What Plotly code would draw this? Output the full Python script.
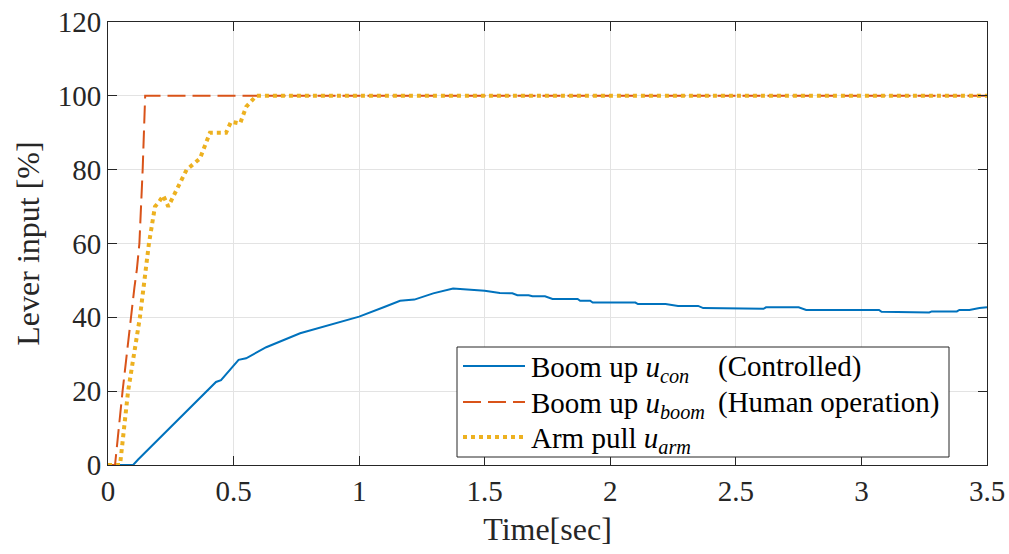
import plotly.graph_objects as go

# ---- data ----
t_con = [0, 0.10, 0.12, 0.43, 0.45, 0.52, 0.55, 0.63, 0.765, 0.90, 1.00, 1.10, 1.163, 1.22,
         1.295, 1.374, 1.45, 1.50, 1.56, 1.61, 1.63, 1.675, 1.69, 1.74, 1.77, 1.87, 1.88, 1.92,
         1.93, 2.10, 2.11, 2.22, 2.27, 2.35, 2.37, 2.43, 2.44, 2.61, 2.62, 2.75, 2.78, 3.07,
         3.08, 3.13, 3.14, 3.27, 3.28, 3.38, 3.39, 3.43, 3.47, 3.50]
u_con = [0, 0, 1.5, 22.5, 23.0, 28.5, 28.9, 31.9, 35.7, 38.2, 40.2, 42.8, 44.5, 44.8,
         46.5, 47.8, 47.5, 47.2, 46.6, 46.5, 46.0, 46.0, 45.7, 45.7, 45.0, 45.0, 44.5, 44.5,
         44.0, 44.0, 43.6, 43.6, 43.1, 43.1, 42.5, 42.5, 42.3, 42.3, 42.7, 42.7, 42.0, 42.0,
         41.5, 41.5, 41.3, 41.3, 41.6, 41.6, 42.0, 42.0, 42.5, 42.7]

t_boom = [0, 0.028, 0.058, 0.090, 0.105, 0.115, 0.125, 0.138, 0.148, 3.5]
u_boom = [0, 0, 20, 40, 48, 53, 60, 80, 100, 100]

t_arm = [0, 0.048, 0.080, 0.127, 0.163, 0.187, 0.200, 0.220, 0.240, 0.313, 0.366, 0.406,
         0.470, 0.490, 0.526, 0.550, 0.590, 3.5]
u_arm = [0, 0, 20, 40, 60, 70, 71, 73, 70, 80, 83, 90, 90, 93, 92.5, 97, 100, 100]

x_ticks = [0, 0.5, 1, 1.5, 2, 2.5, 3, 3.5]
x_tick_labels = ["0", "0.5", "1", "1.5", "2", "2.5", "3", "3.5"]
y_ticks = [0, 20, 40, 60, 80, 100, 120]
y_tick_labels = ["0", "20", "40", "60", "80", "100", "120"]

legend_names = [
    "Boom up <i>u</i><sub><i>con</i></sub>",
    "Boom up <i>u</i><sub><i>boom</i></sub>",
    "Arm pull <i>u</i><sub><i>arm</i></sub>",
]
legend_notes = ["(Controlled)", "(Human operation)", ""]

FONT = "Liberation Serif"
AX = "#262626"
colors = ["#0072BD", "#D95319", "#EDB120"]
line_styles = [dict(color=colors[0], width=2),
               dict(color=colors[1], width=2, dash="18px,7px"),
               dict(color=colors[2], width=4, dash="4px,4px")]

fig = go.Figure()
for tx, uy, ls, nm in zip([t_con, t_boom, t_arm], [u_con, u_boom, u_arm], line_styles, legend_names):
    fig.add_trace(go.Scatter(x=tx, y=uy, mode="lines", name=nm, line=ls, showlegend=False))

axis_common = dict(showline=True, linecolor=AX, linewidth=1, mirror="ticks",
                   ticks="inside", ticklen=9, tickcolor=AX, showgrid=True,
                   gridcolor="#E3E3E3", gridwidth=1, zeroline=False, automargin=False)

# ---- manual legend (paper coordinates) ----
L, B, W, H = 108, 465, 879, 443     # plot-area pixel frame
px = lambda x: (x - L) / W
py = lambda y: (B - y) / H
box = dict(x0=457, x1=949, y0=347, y1=457)
rows_y = [366, 402, 437]

shapes = [dict(type="rect", xref="paper", yref="paper", layer="above",
               x0=px(box["x0"]), x1=px(box["x1"]), y0=py(box["y1"]), y1=py(box["y0"]),
               fillcolor="white", line=dict(color=AX, width=1))]
annotations = []
for i, yy in enumerate(rows_y):
    shapes.append(dict(type="line", xref="paper", yref="paper", layer="above",
                       x0=px(463), x1=px(525), y0=py(yy), y1=py(yy), line=line_styles[i]))
    annotations.append(dict(xref="paper", yref="paper", x=px(529), y=py(yy + 3),
                            xanchor="left", yanchor="middle", showarrow=False,
                            text=legend_names[i], font=dict(family=FONT, size=29, color="black")))
    if legend_notes[i]:
        annotations.append(dict(xref="paper", yref="paper", x=px(716), y=py(yy),
                                xanchor="left", yanchor="middle", showarrow=False,
                                text=legend_notes[i], font=dict(family=FONT, size=29, color="black")))

fig.update_layout(
    width=1009, height=554,
    margin=dict(l=108, r=22, t=22, b=89),
    paper_bgcolor="white", plot_bgcolor="white",
    font=dict(family=FONT, color=AX, size=28),
    xaxis=dict(range=[0, 3.5], tickvals=x_ticks, ticktext=x_tick_labels,
               tickfont=dict(family=FONT, size=29, color=AX),
               title=dict(text="Time[sec]", font=dict(family=FONT, size=32, color=AX), standoff=11),
               **axis_common),
    yaxis=dict(range=[0, 120], tickvals=y_ticks, ticktext=y_tick_labels,
               tickfont=dict(family=FONT, size=29, color=AX),
               title=dict(text="Lever input [%]", font=dict(family=FONT, size=32, color=AX), standoff=8),
               **axis_common),
    shapes=shapes,
    annotations=annotations,
    showlegend=False,
)

fig.write_html("out.html", config={"displayModeBar": False},
               post_script="document.body.style.margin='0';document.body.style.padding='0';")
